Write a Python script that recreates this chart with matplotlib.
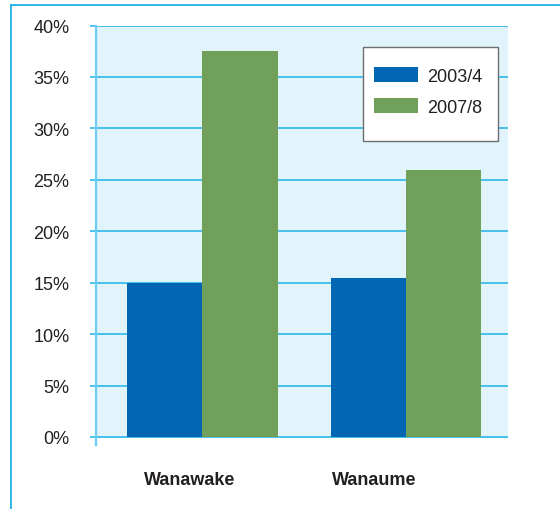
import matplotlib
matplotlib.use("Agg")
import matplotlib.pyplot as plt
from matplotlib.lines import Line2D
from matplotlib.patches import Rectangle
from matplotlib.ticker import FuncFormatter

plt.rcParams['font.family'] = ['Liberation Sans', 'DejaVu Sans']

# Data
groups = ["Wanawake", "Wanaume"]
series_names = ["2003/4", "2007/8"]
values_2003 = [15.0, 15.5]
values_2007 = [37.5, 26.0]
label_offsets = [-0.06, -0.157]   # horizontal shift of the group captions

c_blue = "#0066B3"
c_green = "#71A05A"
c_bg = "#E1F4FB"
c_grid = "#1DB2E6"
c_spine = "#6DCFF6"
c_text = "#231F20"
fs = 13

fig = plt.figure(figsize=(5.6, 5.1), dpi=100)
ax = fig.add_axes([96 / 560, 1 - 439 / 510, 412 / 560, 412.5 / 510])
ax.set_facecolor(c_bg)

w = 0.37
xs = list(range(len(groups)))
ax.bar([x - w / 2 for x in xs], values_2003, width=w, color=c_blue,
       label=series_names[0], zorder=3)
ax.bar([x + w / 2 for x in xs], values_2007, width=w, color=c_green,
       label=series_names[1], zorder=3)

ax.set_xlim(-0.52, 1.5)
ax.set_ylim(-0.1, 40)
ax.set_yticks(range(0, 41, 5))
ax.yaxis.set_major_formatter(FuncFormatter(lambda v, p: f"{v:.0f}%"))
ax.grid(axis="y", color=c_grid, linewidth=1.1, zorder=1)
ax.set_axisbelow(True)
ax.tick_params(axis="y", length=4, width=1.1, color=c_grid, pad=15,
               labelsize=fs, labelcolor=c_text)
ax.set_xticks([])

for s in ["top", "right", "bottom"]:
    ax.spines[s].set_visible(False)
ax.spines["left"].set_color(c_spine)
ax.spines["left"].set_linewidth(1.6)
ax.spines["left"].set_zorder(4)
# left axis line continues a little below the plot area
ax.plot([-0.52, -0.52], [0, -0.018], transform=ax.get_xaxis_transform(),
        color=c_spine, linewidth=1.6, clip_on=False)

for x, name, off in zip(xs, groups, label_offsets):
    ax.text(x + off, -0.1, name, transform=ax.get_xaxis_transform(),
            ha="center", va="center", fontsize=fs, fontweight="bold",
            color=c_text)

# legend box, drawn separately so its padding can be set freely
ax.add_patch(Rectangle((0.648, 0.72), 0.328, 0.228, transform=ax.transAxes,
                       facecolor="white", edgecolor="#6D6E70", linewidth=1.0,
                       zorder=5))
leg = ax.legend(loc="upper left", bbox_to_anchor=(0.675, 0.90),
                borderaxespad=0, borderpad=0, fontsize=fs, frameon=False,
                handlelength=2.44, handleheight=0.92, handletextpad=0.5,
                labelspacing=0.74)
leg.set_zorder(6)
for t in leg.get_texts():
    t.set_color(c_text)

# outer frame along the left and top edges
fig.add_artist(Line2D([11 / 560, 11 / 560], [0, 1 - 6 / 510], color=c_grid,
                      linewidth=1.3, transform=fig.transFigure))
fig.add_artist(Line2D([11 / 560, 1], [1 - 6 / 510, 1 - 6 / 510], color=c_grid,
                      linewidth=1.3, transform=fig.transFigure))

fig.savefig("out.png", dpi=100)
